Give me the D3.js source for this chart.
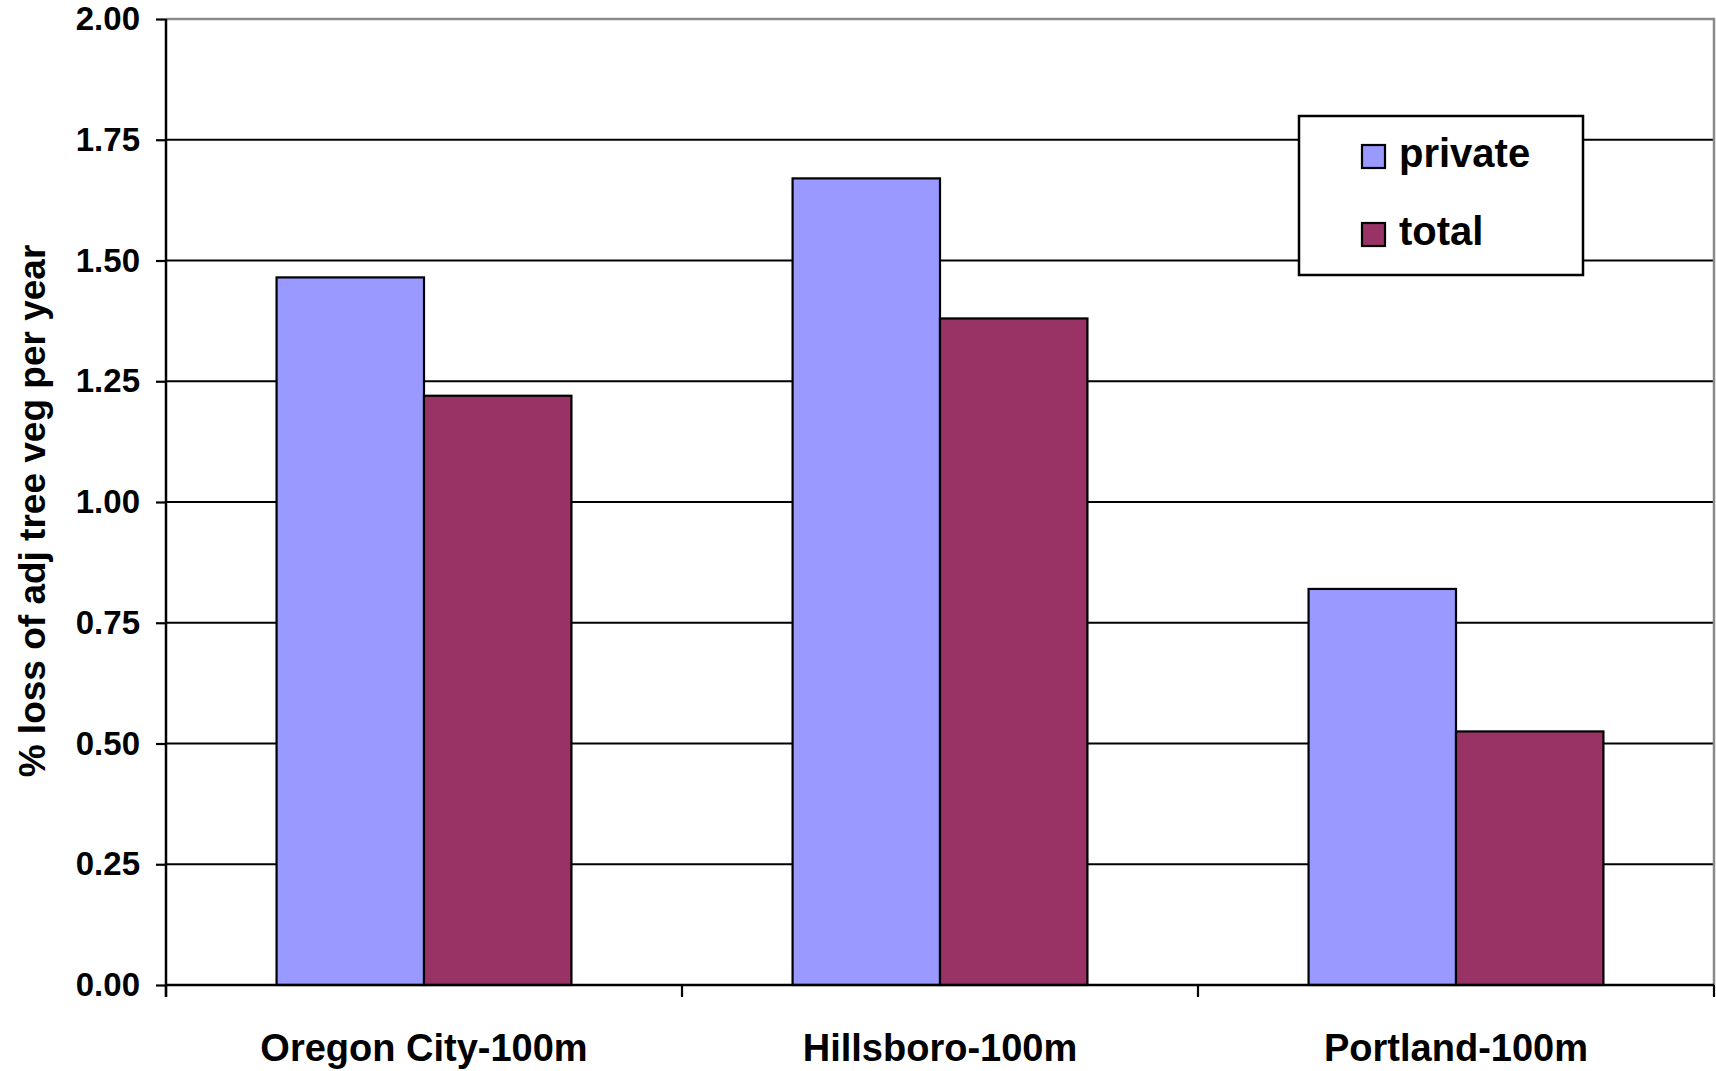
<!DOCTYPE html>
<html>
<head>
<meta charset="utf-8">
<script src="https://cdn.jsdelivr.net/npm/d3@7"></script>
<style>
  html, body { margin: 0; padding: 0; background: #fff; }
  svg { display: block; font-family: Arial, "Liberation Sans", sans-serif; font-weight: bold; }
</style>
</head>
<body>
<svg id="chart" width="1716" height="1071"></svg>
<script>
// Tree-vegetation loss by study area
const categories = ["Oregon City-100m", "Hillsboro-100m", "Portland-100m"];
const seriesNames = ["private", "total"];
const privateValues = [1.465, 1.67, 0.82];
const totalValues = [1.22, 1.38, 0.525];
const yTicks = [0, 0.25, 0.5, 0.75, 1.0, 1.25, 1.5, 1.75, 2.0];
const colors = ["#9999FF", "#993366"];

const rows = categories.map((c, i) => ({ category: c, values: [privateValues[i], totalValues[i]] }));

const svg = d3.select("#chart");
const plot = { left: 166, right: 1714, top: 19, bottom: 985 };

const x = d3.scaleBand().domain(categories).range([plot.left, plot.right]).padding(0);
const xSeries = d3.scaleBand().domain(seriesNames).range([0, x.bandwidth()])
  .paddingInner(0).paddingOuter(0.75);
const y = d3.scaleLinear().domain([0, 2]).range([plot.bottom, plot.top]);

// Horizontal gridlines
svg.append("g")
  .selectAll("line")
  .data(yTicks.filter(t => t > 0 && t < 2))
  .join("line")
  .attr("x1", plot.left).attr("x2", plot.right)
  .attr("y1", d => y(d)).attr("y2", d => y(d))
  .attr("stroke", "#000").attr("stroke-width", 2);

// Plot-area frame (top and right edges)
svg.append("path")
  .attr("d", `M${plot.left},${y(2)}H${plot.right}V${plot.bottom}`)
  .attr("fill", "none").attr("stroke", "#8a8a8a").attr("stroke-width", 2.5);

// Bars
const groups = svg.append("g").selectAll("g")
  .data(rows)
  .join("g")
  .attr("transform", d => `translate(${x(d.category)},0)`);

groups.selectAll("rect")
  .data(d => d.values.map((v, i) => ({ series: seriesNames[i], value: v, i })))
  .join("rect")
  .attr("x", d => xSeries(d.series))
  .attr("width", xSeries.bandwidth())
  .attr("y", d => y(d.value))
  .attr("height", d => y(0) - y(d.value))
  .attr("fill", d => colors[d.i])
  .attr("stroke", "#000")
  .attr("stroke-width", 2.2);

// Y axis
const yAxis = svg.append("g")
  .attr("transform", `translate(${plot.left},0)`)
  .call(d3.axisLeft(y).tickValues(yTicks).tickFormat(d3.format(".2f")).tickSize(10).tickPadding(16));
yAxis.select(".domain").attr("stroke", "#000").attr("stroke-width", 2.5)
  .attr("d", `M0,${plot.top}V${plot.bottom + 12}`);
yAxis.selectAll(".tick line").attr("stroke", "#000").attr("stroke-width", 2.2);
yAxis.selectAll(".tick text")
  .attr("font-family", "Arial, 'Liberation Sans', sans-serif")
  .attr("font-weight", "bold").attr("font-size", 33).attr("fill", "#000");

// X axis (ticks at category boundaries)
const boundaries = categories.map(c => x(c)).concat([plot.right]);
svg.append("line")
  .attr("x1", plot.left).attr("x2", plot.right)
  .attr("y1", plot.bottom).attr("y2", plot.bottom)
  .attr("stroke", "#000").attr("stroke-width", 2.5);
svg.append("g").selectAll("line")
  .data(boundaries)
  .join("line")
  .attr("x1", d => d).attr("x2", d => d)
  .attr("y1", plot.bottom).attr("y2", plot.bottom + 12)
  .attr("stroke", "#000").attr("stroke-width", 2.2);

svg.append("g").selectAll("text")
  .data(categories)
  .join("text")
  .attr("x", d => x(d) + x.bandwidth() / 2)
  .attr("y", 1061)
  .attr("text-anchor", "middle")
  .attr("font-size", 38)
  .attr("fill", "#000")
  .text(d => d);

// Y axis title
svg.append("text")
  .attr("transform", "translate(45,511) rotate(-90)")
  .attr("text-anchor", "middle")
  .attr("font-size", 37)
  .attr("fill", "#000")
  .text("% loss of adj tree veg per year");

// Legend
const legend = svg.append("g").attr("transform", "translate(1299,116)");
legend.append("rect")
  .attr("width", 284).attr("height", 159)
  .attr("fill", "#fff").attr("stroke", "#000").attr("stroke-width", 2.5);
const items = legend.selectAll("g.item")
  .data(seriesNames)
  .join("g")
  .attr("class", "item")
  .attr("transform", (d, i) => `translate(63,${29 + i * 78})`);
items.append("rect")
  .attr("width", 23).attr("height", 23)
  .attr("fill", (d, i) => colors[i])
  .attr("stroke", "#000").attr("stroke-width", 2.2);
items.append("text")
  .attr("x", 37).attr("y", 22)
  .attr("font-size", 40)
  .attr("fill", "#000")
  .text(d => d);
</script>
</body>
</html>
